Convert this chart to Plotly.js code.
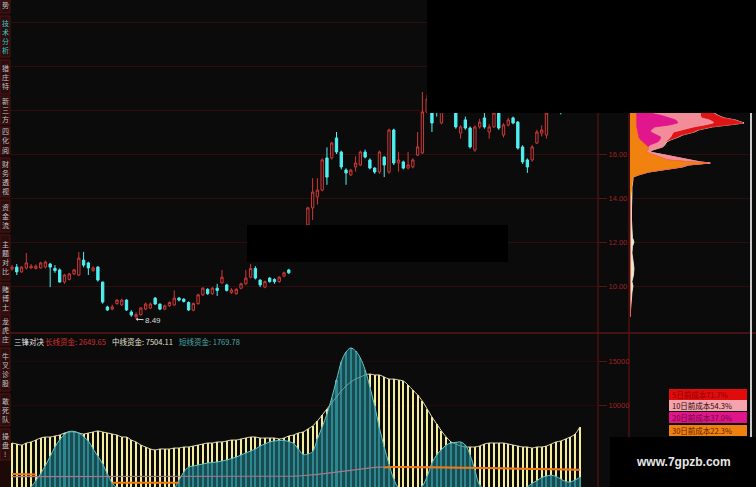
<!DOCTYPE html>
<html><head><meta charset="utf-8">
<script src="https://cdn.plot.ly/plotly-3.0.1.min.js"></script>
<style>html,body{margin:0;padding:0;background:#0b0b0b;}#chart{width:756px;height:487px;}</style>
</head><body><div id="chart"></div>
<script>
// ---------- price candles (120 sessions) ----------
const openP = [10.77,10.86,10.64,10.82,10.82,10.80,10.82,10.86,11.00,10.80,
10.73,10.18,10.30,10.55,10.50,11.18,11.05,10.70,10.86,10.18,
9.05,8.95,9.20,9.14,9.36,8.82,8.60,8.70,8.95,9.00,
9.45,9.18,8.95,9.10,9.14,9.45,9.40,9.25,8.90,9.20,
9.60,9.85,9.65,9.90,10.14,10.05,9.70,9.65,9.90,10.10,
10.40,10.80,10.27,9.95,10.36,10.30,10.20,10.45,10.73,11.12,
11.70,12.20,12.77,13.55,14.05,14.36,15.82,15.82,16.73,16.09,
15.27,15.05,15.41,15.50,16.09,15.73,15.36,15.18,15.86,15.18,
17.09,15.60,15.64,15.36,15.41,15.95,16.05,17.90,18.30,18.20,
17.41,18.10,18.60,18.20,16.95,17.55,17.18,16.18,17.23,17.64,
17.00,17.23,17.90,16.86,17.32,17.64,17.45,16.32,15.73,15.73,
16.50,16.95,16.86,17.90,18.40,18.90,18.50,19.20,19.80,19.40];
const highP = [10.95,11.00,10.90,11.50,11.00,10.98,11.10,11.15,11.05,10.95,
10.80,10.55,10.60,10.78,11.55,11.55,11.10,10.90,10.90,10.20,
9.10,9.15,9.40,9.42,9.40,8.90,8.80,9.05,9.25,9.25,
9.50,9.20,9.15,9.30,9.80,9.50,9.45,9.30,9.25,9.65,
9.95,9.90,9.95,10.10,10.73,10.10,9.90,9.90,10.15,10.73,
11.00,10.90,10.30,10.25,10.40,10.35,10.45,10.65,10.78,11.80,
12.30,12.70,13.60,14.90,14.90,15.80,16.30,16.55,17.00,16.15,
15.35,15.32,15.90,16.15,16.20,15.80,15.40,16.15,15.90,17.15,
17.15,16.10,15.70,16.10,15.80,17.00,18.82,18.70,18.40,18.40,
18.30,18.80,18.80,18.30,17.30,17.70,17.25,17.30,17.60,17.90,
17.35,18.10,18.10,17.40,17.65,17.70,17.50,16.40,15.80,16.40,
17.10,17.30,17.95,18.50,19.00,19.10,19.40,19.90,20.00,20.30];
const lowP = [10.70,10.50,10.60,10.75,10.78,10.75,10.78,10.80,9.95,10.60,
10.15,10.10,10.25,10.50,10.45,10.85,10.50,10.65,10.20,9.20,
8.87,8.90,9.15,9.10,8.87,8.60,8.49,8.65,8.90,8.95,
9.15,8.90,8.90,9.05,9.10,9.30,9.25,8.87,8.85,9.15,
9.55,9.60,9.60,9.55,10.10,9.75,9.65,9.60,9.85,10.05,
10.35,10.30,9.95,9.90,10.15,10.10,10.15,10.40,10.55,11.10,
11.60,12.15,12.55,13.00,13.70,14.30,14.60,15.75,16.00,15.30,
14.60,15.00,15.20,15.45,15.80,15.30,15.10,15.10,14.95,15.10,
15.50,15.20,15.30,15.30,15.35,15.90,16.00,17.85,17.00,17.70,
17.35,18.00,18.00,17.15,16.70,17.10,16.25,16.10,17.15,17.15,
16.70,17.20,17.10,16.75,17.25,17.35,16.20,15.55,15.14,15.65,
16.45,16.80,16.70,17.88,18.30,17.80,18.45,19.10,19.30,19.30];
const closeP = [10.86,10.64,10.86,11.05,10.90,10.90,11.05,11.09,10.86,10.70,
10.18,10.50,10.55,10.73,11.27,10.95,10.82,10.82,10.27,9.27,
8.91,9.05,9.36,9.36,8.91,8.68,8.70,9.00,9.18,9.18,
9.18,8.95,9.10,9.25,9.45,9.36,9.30,8.91,9.20,9.60,
9.90,9.65,9.90,9.80,10.40,9.80,9.82,9.85,10.10,10.36,
10.80,10.36,10.05,10.20,10.20,10.20,10.40,10.60,10.60,11.70,
12.20,12.60,13.55,14.27,14.36,15.73,14.95,16.50,16.09,15.41,
15.14,15.27,15.59,16.09,15.86,15.36,15.18,16.09,15.50,17.09,
15.59,15.73,15.36,15.50,15.73,16.32,17.91,18.50,17.41,17.90,
18.10,18.60,18.20,17.23,17.23,17.18,16.32,17.23,17.45,17.23,
17.23,17.86,17.18,17.32,17.55,17.41,16.27,15.64,15.41,16.32,
17.00,17.09,17.86,18.40,18.90,18.50,19.20,19.80,19.40,20.10];
const lowLabel = "8.49";
const priceTicks = [10,12,14,16,18,20,22];
const priceTickText = ["10.00","12.00","14.00","16.00","","",""];

// ---------- 三锋对决 indicator ----------
const midFunds = [5680,5570,5450,5680,5800,6020,6250,6360,6360,6480,
6590,6820,6930,6930,6820,6700,6820,6930,7050,6930,
6820,6700,6590,6360,6360,6020,5800,5450,5230,5000,
4890,5000,5000,5000,5110,5110,5230,5230,5340,5450,
5570,5680,5680,5800,5800,5910,6020,6020,6140,6250,
6360,6360,6250,6250,6250,6250,6140,6250,6480,6590,
6820,6930,7270,7610,8180,8860,9550,10230,10910,11590,
12160,12610,12950,13180,13410,13520,13410,13410,13180,12950,
12950,12840,12730,12270,11700,11140,10450,9550,8640,7840,
7050,6360,5800,5570,5340,5230,5230,5230,5340,5570,
5680,5680,5680,5680,5570,5450,5340,5230,5230,5110,
5230,5230,5340,5570,5800,5910,6140,6360,6700,7504.11];
const shortFunds = [200,250,300,400,700,1410,2200,3120,4150,5230,
6050,6650,6990,7000,6820,6410,5910,5020,4170,3300,
2160,1140,600,400,300,250,200,200,200,200,
250,300,350,450,600,1480,2390,2950,3070,3180,
3300,3410,3470,3520,3640,3750,3920,4090,4320,4550,
4770,5000,5340,5570,5800,5910,5970,5970,5850,5630,
5000,4380,4430,4720,6140,7500,8980,10800,12840,14890,
16020,16480,16140,15340,13980,12050,9890,7390,5230,3300,
1590,600,400,300,300,400,800,1880,3410,4320,
4940,5450,5680,5740,5800,5450,4320,2610,900,500,
400,300,250,250,300,350,450,550,700,1100,
1410,1760,1930,2020,1880,1590,1310,1250,1480,1769.78];
const longFunds = [2160,2160,2150,2140,2120,2100,2000,1900,1800,1700,
1600,1500,1420,1350,1300,1260,1230,1200,1190,1180,
1175,1170,1170,1170,1170,1170,1170,1170,1170,1170,
1170,1170,1170,1170,1170,1170,1200,1220,1250,1280,
1300,1320,1350,1380,1400,1420,1450,1480,1510,1530,
1550,1580,1610,1640,1670,1700,1730,1760,1790,1820,
1850,1910,1970,2030,2090,2150,2210,2270,2330,2390,
2450,2510,2570,2630,2690,2750,2800,2850,2900,2950,
2950,2950,2950,2950,2950,2950,2950,2950,2940,2930,
2920,2910,2900,2890,2880,2870,2860,2850,2840,2830,
2820,2810,2800,2790,2780,2770,2760,2750,2740,2730,
2720,2710,2700,2690,2680,2670,2665,2660,2655,2649.65];
const avgLine = [1850,1850,1850,1850,1850,1850,1850,1850,1850,1850,
1850,1845,1840,1840,1835,1830,1830,1830,1830,1830,
1830,1830,1830,1830,1830,1830,1830,1830,1830,1830,
1830,1830,1830,1830,1830,1830,1830,1830,1830,1830,
1830,1830,1830,1830,1830,1830,1830,1830,1830,1830,
1830,1830,1840,1850,1860,1870,1880,1890,1900,1910,
1930,1960,2000,2050,2110,2180,2250,2330,2410,2490,
2560,2630,2700,2760,2820,2870,2910,2940,2950,2950,
2950,2950,2950,2950,2950,2950,2950,2950,2940,2930,
2920,2910,2900,2890,2880,2870,2860,2850,2840,2830,
2820,2810,2800,2790,2780,2770,2760,2750,2740,2730,
2720,2710,2700,2690,2680,2670,2665,2660,2655,2649.65];
const fundTicks = [10000,15000];
const fundTickText = ["10000","15000"];

// ---------- chip distribution ----------
const chipPrice = [18.4,18.2,18.0,17.86,17.75,17.64,17.55,17.45,17.41,17.36,17.32,17.23,17.09,17.0,16.86,16.77,16.64,16.55,16.41,16.32,16.18,16.09,15.95,15.82,15.73,15.64,15.59,15.5,15.41,15.27,15.18,15.05,14.95,14.82,14.5,14.2,13.9,13.5,13.0,12.6,12.2,12.0,11.8,11.5,11.2,11.0,10.8,10.5,10.2,10.0,9.7,9.4,9.1,8.8,8.6];
const chipAll = [51,61,76,85,89,95,106,113,115,107,101,83,69,65,53,49,41,37,35,33,23,20,36,51,59,71,81,59,53,32,19,9,3,3,2,2,1.5,1.5,1.5,2,2.5,4,2.5,2,2.5,3.5,4,3.5,2,3,2,1.5,1.5,1,0];
const chip5 = [50,60,75,84,88,94,105,112,114,106,100,82,68,64,52,48,40,36,34,32,22,19,35,50,58,70,80,58,52,31,18,8,0,0,0,0,0,0,0,0,0,0,0,0,0,0,0,0,0,0,0,0,0,0,0];
const chip10 = [40,50,62,71,71,72,80,84,84,80,75,64,50,44,42,41,38,36,34,32,22,19,35,50,58,70,80,58,52,31,18,8,0,0,0,0,0,0,0,0,0,0,0,0,0,0,0,0,0,0,0,0,0,0,0];
const chip20 = [15,18,20,21,32,41,46,48,48,44,40,25,21,21,28,31,30,28,20,18,18,16,24,32,38,60,78,56,51,30,18,8,0,0,0,0,0,0,0,0,0,0,0,0,0,0,0,0,0,0,0,0,0,0,0];
const chip30 = [5,6,6,6,6,6,6,6,6,6,6,6,7,7,8,8,10,12,16,18,18,16,24,32,38,60,78,56,51,30,18,8,3,2.5,2,1,0,0,0,0,0,0,0,0,0,0,0,0,0,0,0,0,0,0,0];
const costLabels = ["5日前成本71.7%","10日前成本54.3%","20日前成本37.0%","30日前成本22.3%"];

// ---------- texts ----------
const indName = "三锋对决";
const indLabels = ["长线资金: 2649.65","中线资金: 7504.11","短线资金: 1769.78"];
const sideTabs = ["势","技术分析","猎庄特","新三方","四化阅","财务透视","资金流","主题对比","赌博士","龙虎庄","牛叉诊股","敢死队","操盘!"];
const watermark = "www.7gpzb.com";

// ================= drawing =================
const W=756,H=487;
const px=x=>x/W, py=y=>1-y/H;
const idx = openP.map((_,i)=>i);
const BG='#0b0b0b';
const traces=[];

traces.push({type:'candlestick',x:idx,open:openP,high:highP,low:lowP,close:closeP,
  xaxis:'x',yaxis:'y',whiskerwidth:0,
  increasing:{line:{color:'#d03838',width:1},fillcolor:BG},
  decreasing:{line:{color:'#4ff0f0',width:1},fillcolor:'#4ff0f0'},hoverinfo:'skip'});

// chips
const chipLayers=[[chipAll,'#ece8c8','#f0f0f0'],[chip5,'#e01414','#e01414'],[chip10,'#f28c98','#f4a0a8'],[chip20,'#e2168c','#e2168c'],[chip30,'#f28210','#f28210']];
chipLayers.forEach(([arr,fc,lc])=>{
  traces.push({type:'scatter',mode:'lines',x:arr,y:chipPrice,xaxis:'x3',yaxis:'y',fill:'tozerox',fillcolor:fc,line:{color:lc,width:0.8},hoverinfo:'skip'});
});

// lower indicator
traces.push({type:'bar',x:idx,y:midFunds,width:0.42,xaxis:'x2',yaxis:'y2',marker:{color:'#f3eb98',line:{width:0}},hoverinfo:'skip'});
traces.push({type:'scatter',mode:'lines',x:idx,y:midFunds,xaxis:'x2',yaxis:'y2',line:{color:'#dedbb8',width:1,shape:'spline'},hoverinfo:'skip'});
traces.push({type:'scatter',mode:'lines',x:idx,y:shortFunds,xaxis:'x2',yaxis:'y2',fill:'tozeroy',fillcolor:'rgba(34,120,128,0.6)',line:{color:'#6cc4c4',width:1,shape:'spline'},hoverinfo:'skip'});
traces.push({type:'bar',x:idx,y:shortFunds,width:0.42,xaxis:'x2',yaxis:'y2',marker:{color:'#3c9eab',line:{width:0}},hoverinfo:'skip'});
traces.push({type:'scatter',mode:'lines',x:idx,y:avgLine,xaxis:'x2',yaxis:'y2',line:{color:'#a87888',width:1.2},hoverinfo:'skip'});
traces.push({type:'scatter',mode:'lines',x:idx,y:longFunds.map((v,i)=>(i<6||(i>=21&&i<36)||i>=78)?v:null),xaxis:'x2',yaxis:'y2',line:{color:'#f07a12',width:2},connectgaps:false,hoverinfo:'skip'});

// shapes
const shapes=[];
const rectPx=(x0,y0,x1,y1,fill,line)=>({type:'rect',xref:'paper',yref:'paper',x0:px(x0),x1:px(x1),y0:py(y1),y1:py(y0),fillcolor:fill,line:{width:line?1:0,color:line||fill},layer:'above'});
const linePx=(x0,y0,x1,y1,color,w)=>({type:'line',xref:'paper',yref:'paper',x0:px(x0),x1:px(x1),y0:py(y0),y1:py(y1),line:{color:color,width:w||1},layer:'above'});
shapes.push(linePx(0,333,756,333,'#801818',1));
shapes.push(linePx(598,0,598,487,'#6e1414',1));
shapes.push(linePx(629,0,629,487,'#6e1414',1));
shapes.push(linePx(751,0,751,487,'#c8c8c8',2));
// masks
shapes.push(rectPx(427,0,756,113,'#000000'));
shapes.push(rectPx(247,225,508,262,'#000000'));
shapes.push(rectPx(610,437,756,487,'#000000'));
// sidebar
shapes.push(rectPx(0,0,10,487,'#1e0909'));
const tabBounds=[[0,13],[16,57],[60,94],[96,124],[127,154],[158,197],[200,232],[235,280],[283,312],[314,345],[348,391],[394,426],[429,460]];
tabBounds.forEach(b=>shapes.push(rectPx(0,b[0],10,b[1],'#2a0c0c','#4a1414')));
// cost legend boxes
const boxColors=['#e00c0c','#f5a3ad','#e0158a','#f08010'];
const boxTextColors=['#8e0000','#2a0a0a','#6a0a40','#5a2200'];
const boxY=[[389,400],[400,411],[412,423],[425,436]];
boxY.forEach((b,k)=>shapes.push(rectPx(669,b[0],747,b[1],boxColors[k])));

// annotations
const ann=[];
const cjk="Noto Sans CJK SC, Liberation Sans, sans-serif";
const tx=(x,y,text,color,size,anchor,family)=>({xref:'paper',yref:'paper',x:px(x),y:py(y),text:text,showarrow:false,xanchor:anchor||'left',yanchor:'middle',font:{size:size||7.5,color:color,family:family||cjk}});
ann.push(tx(12,341,indName,'#e6e6e6',7.5));
ann.push(tx(43,341,indLabels[0],'#d23030',7.5));
ann.push(tx(110,341,indLabels[1],'#e2e2d2',7.5));
ann.push(tx(177,341,indLabels[2],'#4aa8a8',7.5));
ann.push({x:26,y:lowP[26],xref:'x',yref:'y',text:lowLabel,showarrow:true,ax:17,ay:1,arrowhead:1,arrowsize:0.6,arrowwidth:1,arrowcolor:'#dcdcdc',font:{size:8,color:'#dcdcdc',family:'Liberation Sans'}});
boxY.forEach((b,k)=>ann.push(tx(670,(b[0]+b[1])/2,costLabels[k],boxTextColors[k],7.5)));
ann.push(tx(683,462,'<b>'+watermark+'</b>','#e8e8e8',12,'center','Liberation Sans'));
// sidebar tabs: one character per line, spaced evenly inside each tab
tabBounds.forEach((b,k)=>{
  const chars=sideTabs[k].split('');
  const c=(k===0)?5:(b[0]+b[1])/2;
  const step=9;
  chars.forEach((ch,j)=>{
    const y=c+(j-(chars.length-1)/2)*step;
    ann.push({xref:'paper',yref:'paper',x:px(5),y:py(y),text:ch,showarrow:false,xanchor:'center',yanchor:'middle',borderpad:0,font:{size:7,color:k===1?'#36c8c8':'#c4c4c4',family:cjk}});
  });
});

const axisFont={size:7.5,color:'#a02222',family:'Liberation Sans'};
const layout={
  width:W,height:H,margin:{l:0,r:0,t:0,b:0},paper_bgcolor:BG,plot_bgcolor:BG,showlegend:false,
  barmode:'overlay',bargap:0,
  xaxis:{domain:[px(10),px(598)],range:[-0.42,122.8],visible:false,rangeslider:{visible:false},anchor:'y'},
  yaxis:{domain:[py(333),1],range:[7.864,23.0],side:'right',anchor:'x',tickvals:priceTicks,ticktext:priceTickText,ticks:'outside',ticklen:8,tickcolor:'#5a1212',tickfont:axisFont,showgrid:true,gridcolor:'#300c0c',zeroline:false,showline:false},
  xaxis2:{domain:[px(10),px(598)],range:[-0.42,122.8],visible:false,anchor:'y2'},
  yaxis2:{domain:[0,py(333)],range:[682,18182],side:'right',anchor:'x2',tickvals:fundTicks,ticktext:fundTickText,ticks:'outside',ticklen:8,tickcolor:'#5a1212',tickfont:axisFont,showgrid:true,gridcolor:'#240909',zeroline:false,showline:false},
  xaxis3:{domain:[px(630),px(750)],range:[0,121],visible:false,anchor:'y'},
  shapes:shapes,annotations:ann
};
Plotly.newPlot('chart',traces,layout,{staticPlot:true,displayModeBar:false});
</script></body></html>
